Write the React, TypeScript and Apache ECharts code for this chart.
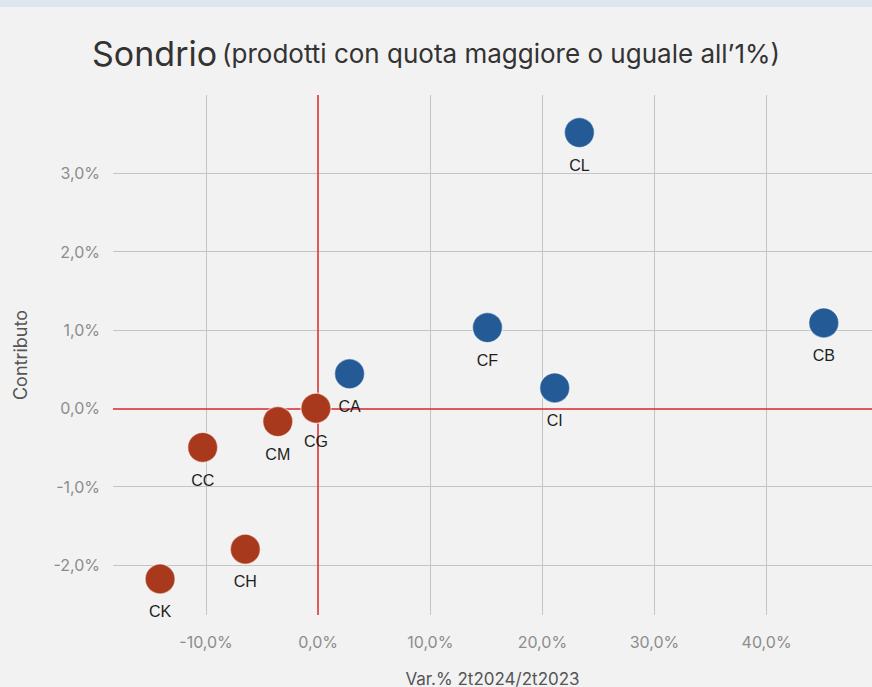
import React, { useEffect, useRef } from "react";
import * as echarts from "echarts";

// Product codes with their growth (Var.% 2t2024/2t2023) and contribution
const CODES = ["CL", "CB", "CF", "CI", "CA", "CG", "CM", "CC", "CH", "CK"];
const VARIATION = [23.3, 45.1, 15.1, 21.1, 2.8, -0.2, -3.6, -10.3, -6.5, -14.1];
const CONTRIBUTION = [3.52, 1.09, 1.03, 0.26, 0.44, 0.0, -0.17, -0.5, -1.8, -2.18];

// Axis ticks
const X_TICKS = [-10, 0, 10, 20, 30, 40];
const Y_TICKS = [-2, -1, 0, 1, 2, 3];

const BLUE = "#245b96";
const RED = "#a8391c";
const GRID_GRAY = "#c4c4c4";
const ZERO_RED = "#d8262c";

const fmtPct = (v: number) => v.toFixed(1).replace(".", ",") + "%";
const isTick = (list: number[], v: number) =>
  list.some((t) => Math.abs(t - v) < 1e-6);

export default function App() {
  const ref = useRef<HTMLDivElement>(null);

  useEffect(() => {
    if (!ref.current) return;
    const chart = echarts.init(ref.current, null, { renderer: "svg" });

    const points = CODES.map((code, i) => ({
      name: code,
      value: [VARIATION[i], CONTRIBUTION[i]],
      itemStyle: { color: VARIATION[i] < 0 ? RED : BLUE },
    }));

    const grayLine = { color: GRID_GRAY, width: 1, type: "solid" as const };
    const redLine = { color: ZERO_RED, width: 1.5, type: "solid" as const };

    chart.setOption({
      animation: false,
      backgroundColor: "#f2f2f2",
      title: {
        left: "center",
        top: 31,
        text: "{a|Sondrio} {b|(prodotti con quota maggiore o uguale all’1%)}",
        textStyle: {
          rich: {
            a: { fontFamily: "Inter", fontSize: 34, color: "#333333", fontWeight: 400 },
            b: { fontFamily: "Inter", fontSize: 26, color: "#333333", fontWeight: 400 },
          },
        },
      },
      grid: { left: 113, right: 0, top: 95, bottom: 72, outerBoundsMode: "none" },
      xAxis: {
        type: "value",
        min: -18.3,
        max: 49.4,
        name: "Var.% 2t2024/2t2023",
        nameLocation: "middle",
        nameGap: 55,
        nameTextStyle: { fontFamily: "Inter", fontSize: 17, color: "#555555" },
        axisLine: { show: false },
        axisTick: { show: false },
        splitLine: { show: false },
        axisLabel: {
          margin: 19,
          fontFamily: "Inter",
          fontSize: 16,
          color: "#8c8c8c",
          formatter: (v: number) => (isTick(X_TICKS, v) ? fmtPct(v) : ""),
        },
      },
      yAxis: {
        type: "value",
        min: -2.64,
        max: 4.0,
        name: "Contributo",
        nameLocation: "middle",
        nameGap: 84,
        nameTextStyle: { fontFamily: "Inter", fontSize: 18, color: "#555555" },
        axisLine: { show: false },
        axisTick: { show: false },
        splitLine: { show: false },
        axisLabel: {
          margin: 13,
          fontFamily: "Inter",
          fontSize: 16,
          color: "#8c8c8c",
          formatter: (v: number) => (isTick(Y_TICKS, v) ? fmtPct(v) : ""),
        },
      },
      series: [
        {
          // reference grid and zero lines
          type: "scatter",
          data: [],
          silent: true,
          z: 1,
          markLine: {
            silent: true,
            symbol: "none",
            label: { show: false },
            data: [
              ...X_TICKS.filter((t) => t !== 0).map((t) => ({ xAxis: t, lineStyle: grayLine })),
              ...Y_TICKS.filter((t) => t !== 0).map((t) => ({ yAxis: t, lineStyle: grayLine })),
              { xAxis: 0, lineStyle: redLine },
              { yAxis: 0, lineStyle: redLine },
            ],
          },
        },
        {
          type: "scatter",
          z: 5,
          symbolSize: 30,
          data: points,
          itemStyle: { opacity: 1, borderColor: "rgba(255,255,255,0.5)", borderWidth: 1.5 },
          label: {
            show: true,
            position: "bottom",
            distance: 9,
            formatter: (p: any) => p.name,
            fontFamily: "Liberation Sans",
            fontSize: 16,
            color: "#1e1e1e",
          },
        },
      ],
    });

    return () => chart.dispose();
  }, []);

  return (
    <div style={{ position: "absolute", left: 0, top: 0, width: 872, height: 687, background: "#f2f2f2" }}>
      <div style={{ position: "absolute", left: 0, top: 0, width: 872, height: 7, background: "#dfe5ee", zIndex: 2 }} />
      <div ref={ref} style={{ position: "absolute", left: 0, top: 0, width: 872, height: 687 }} />
    </div>
  );
}
